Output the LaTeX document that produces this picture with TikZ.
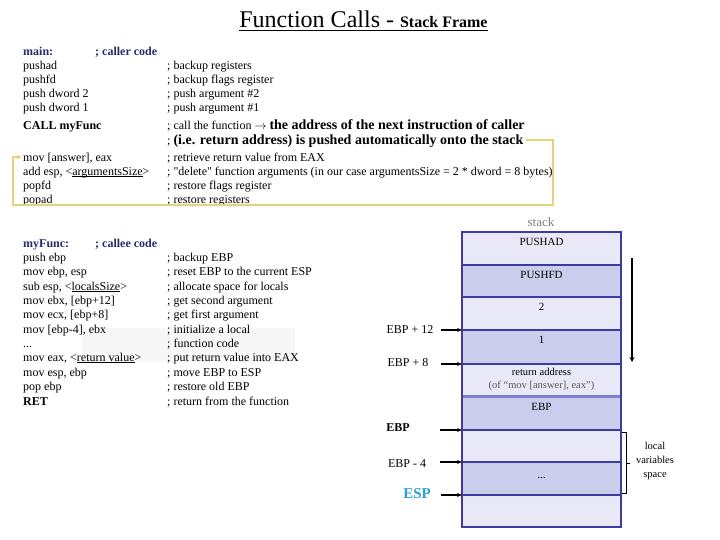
\documentclass[tikz,border=0pt]{standalone}
\usepackage{fontspec}
\setmainfont{Liberation Serif}
\newfontfamily\rawserif{Liberation Serif}[Ligatures=TeXOff]
\usetikzlibrary{arrows.meta}
\definecolor{navy}{RGB}{40,40,110}
\definecolor{stackline}{RGB}{60,60,160}
\definecolor{lightrow}{RGB}{232,232,247}
\definecolor{darkrow}{RGB}{203,205,236}
\definecolor{sepline}{RGB}{125,125,205}
\definecolor{yelline}{RGB}{230,210,120}
\definecolor{espcyan}{RGB}{40,160,210}
\newcommand\thickul[1]{\setbox0=\hbox{#1}\rlap{\rule[-1.7pt]{\wd0}{0.9pt}}\box0}
\tikzset{
  code/.style={anchor=west, inner sep=0pt, font=\fontsize{12}{14}\selectfont, text height=10pt, text depth=1pt},
  hdr/.style={code, font=\fontsize{12}{14}\selectfont\bfseries, text=navy},
  bcode/.style={code, font=\fontsize{12}{14}\selectfont\bfseries},
  row/.style={draw=stackline, line width=1.6pt, minimum width=159pt, inner sep=0pt, outer sep=0pt, anchor=north west},
  rowtxt/.style={inner sep=0pt, font=\fontsize{11}{13}\selectfont},
  lab/.style={inner sep=0pt, font=\fontsize{12}{14}\selectfont},
  ptr/.style={line width=1.4pt, -{Stealth[length=5pt,width=4pt]}},
}
\begin{document}
\begin{tikzpicture}[x=1pt,y=-1pt]
\useasboundingbox (0,0) rectangle (720,540);
% title
\node[inner sep=0pt, text depth=0pt, anchor=base] (title) at (363.5,28)
  {\fontsize{24}{26}\selectfont Function Calls - \fontsize{16}{18}\selectfont\bfseries Stack Frame};
\draw[line width=1.2pt] ([yshift=-2.5pt]title.south west) -- ([yshift=-2.5pt]title.south east);

% faint background rectangle
\fill[gray!6] (82,328) rectangle (295,362);

% caller code
\node[hdr] (main) at (23,51) {main:};
\node[hdr] (mainc) at (95,51) {; caller code};
\node[code] (a1) at (23,65) {pushad};
\node[code] (a2) at (23,79) {pushfd};
\node[code] (a3) at (23,93) {push dword 2};
\node[code] (a4) at (23,107) {push dword 1};
\node[bcode] (a5) at (23,125) {CALL myFunc};
\node[code] (mov) at (23,157) {mov [answer], eax};
\node[code] (a7) at (23,171) {add esp, <\thickul{argumentsSize}>};
\node[code] (a8) at (23,185) {popfd};
\node[code] (a9) at (23,199) {popad};

\node[code] (b1) at (167,65) {; backup registers};
\node[code] (b2) at (167,79) {; backup flags register};
\node[code] (b3) at (167,93) {; push argument \#2};
\node[code] (b4) at (167,107) {; push argument \#1};
\node[code] (b5) at (167,125) {; call the function \(\rightarrow\) {\fontsize{14}{16}\selectfont\bfseries the address of the next instruction of caller}};
\node[code] (ie) at (167,140) {; \fontsize{14}{16}\selectfont\bfseries (i.e. return address) is pushed automatically onto the stack};
\node[code] (b7) at (167,157) {; retrieve return value from EAX};
\node[code] (b8) at (167,171) {; {\rawserif "}delete{\rawserif "} function arguments (in our case argumentsSize = 2 * dword = 8 bytes)};
\node[code] (b9) at (167,185) {; restore flags register};
\node[code] (b10) at (167,199) {; restore registers};

% yellow return path
\coordinate (y1) at (553,140);
\coordinate (y2) at (553,205);
\coordinate (y3) at (13,205);
\coordinate (y4) at (13,157);
\draw[yelline, line width=1.2pt, -{Latex[length=5pt,width=5pt]}]
  ([xshift=2pt]ie.east) -- (y1) -- (y2) -- (y3) -- (y4) -- ([xshift=-1pt]mov.west);

% callee code
\node[hdr] (fn) at (23,243) {myFunc:};
\node[hdr] (fnc) at (95,243) {; callee code};
\node[code] (c1) at (23,257) {push ebp};
\node[code] (c2) at (23,271) {mov ebp, esp};
\node[code] (c3) at (23,286) {sub esp, <\thickul{localsSize}>};
\node[code] (c4) at (23,300) {mov ebx, [ebp+12]};
\node[code] (c5) at (23,314) {mov ecx, [ebp+8]};
\node[code] (c6) at (23,329) {mov [ebp-4], ebx};
\node[code] (c7) at (23,343) {...};
\node[code] (c8) at (23,357) {mov eax, <\thickul{return value}>};
\node[code] (c9) at (23,372) {mov esp, ebp};
\node[code] (c10) at (23,386) {pop ebp};
\node[bcode] (c11) at (23,401) {RET};

\node[code] (d1) at (167,257) {; backup EBP};
\node[code] (d2) at (167,271) {; reset EBP to the current ESP};
\node[code] (d3) at (167,286) {; allocate space for locals};
\node[code] (d4) at (167,300) {; get second argument};
\node[code] (d5) at (167,314) {; get first argument};
\node[code] (d6) at (167,329) {; initialize a local};
\node[code] (d7) at (167,343) {; function code};
\node[code] (d8) at (167,357) {; put return value into EAX};
\node[code] (d9) at (167,372) {; move EBP to ESP};
\node[code] (d10) at (167,386) {; restore old EBP};
\node[code] (d11) at (167,401) {; return from the function};

% stack
\node[inner sep=0pt, text=gray, font=\fontsize{13}{15}\selectfont] (stk) at (541,222) {stack};
\node[row, fill=lightrow, minimum height=33pt] (r1) at (462,232) {};
\node[row, fill=darkrow, minimum height=32pt] (r2) at (r1.south west) {};
\node[row, fill=lightrow, minimum height=33pt] (r3) at (r2.south west) {};
\node[row, fill=darkrow, minimum height=34pt] (r4) at (r3.south west) {};
\node[row, fill=lightrow, minimum height=32pt] (r5) at (r4.south west) {};
\node[row, fill=darkrow, minimum height=34pt] (r6) at (r5.south west) {};
\node[row, fill=lightrow, minimum height=32pt] (r7) at (r6.south west) {};
\node[row, fill=darkrow, minimum height=33pt] (r8) at (r7.south west) {};
\node[row, fill=lightrow, minimum height=32pt] (r9) at (r8.south west) {};
\draw[sepline, line width=3pt] (r5.south west) -- (r5.south east);
\draw[stackline, line width=2pt] (r1.north west) rectangle (r9.south east);

\node[rowtxt] (t1) at ([yshift=-10pt]r1.north) {PUSHAD};
\node[rowtxt] (t2) at ([yshift=-10pt]r2.north) {PUSHFD};
\node[rowtxt] (t3) at ([yshift=-10pt]r3.north) {2};
\node[rowtxt] (t4) at ([yshift=-10pt]r4.north) {1};
\node[rowtxt, font=\fontsize{10.5}{13}\selectfont, align=center, anchor=north] (t5) at ([yshift=-4pt]r5.north)
  {return address\\{\color{black!65}(of “mov [answer], eax”)}};
\node[rowtxt] (t6) at ([yshift=-11pt]r6.north) {EBP};
\node[rowtxt] (t8) at (r8.center) {...};

% pointer labels
\node[lab] (e12) at (410,330) {EBP + 12};
\node[lab] (e8) at (408,363) {EBP + 8};
\node[lab, font=\fontsize{12}{14}\selectfont\bfseries] (ebp) at (398,428) {EBP};
\node[lab] (em4) at (407,464) {EBP - 4};
\node[lab, font=\fontsize{15}{17}\selectfont\bfseries, text=espcyan] (esp) at (417,494) {ESP};
\coordinate (p1) at ([xshift=-21pt]r4.north west);
\coordinate (p2) at ([xshift=-21pt]r5.north west);
\coordinate (p3) at ([xshift=-22pt]r7.north west);
\coordinate (p4) at ([xshift=-22pt]r8.north west);
\coordinate (p5) at ([xshift=-21pt]r9.north west);
\draw[ptr] (p1) -- (r4.north west);
\draw[ptr] (p2) -- (r5.north west);
\draw[ptr] (p3) -- (r7.north west);
\draw[ptr] (p4) -- (r8.north west);
\draw[ptr] (p5) -- (r9.north west);

% growth arrow
\coordinate (g1) at (632,258);
\coordinate (g2) at (632,362);
\draw[line width=1.6pt, -{Stealth[length=5pt,width=5pt]}] (g1) -- (g2);

% local variables bracket
\draw[line width=0.8pt] (622,432) -- (626,432) -- (626,493) -- (622,493);
\draw[line width=0.8pt] (626,463) -- (630,463);
\node[inner sep=0pt, align=center, font=\fontsize{10.5}{14}\selectfont] (lv) at (655,461) {local\\variables\\space};
\end{tikzpicture}
\end{document}
